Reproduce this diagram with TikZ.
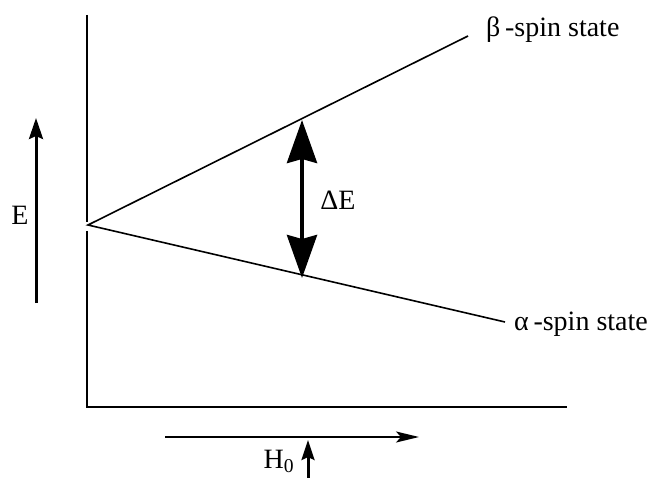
\documentclass[tikz,border=0pt]{standalone}
\usepackage{fontspec}
\setmainfont{Liberation Serif}
\usetikzlibrary{arrows.meta}
\begin{document}
\begin{tikzpicture}[x=1pt,y=-1pt,
  lbl/.style={inner sep=0pt,font=\fontsize{28}{32}\selectfont},
  axis/.style={line width=2pt},
  level/.style={line width=1.6pt}]
\useasboundingbox (0,0) rectangle (655,478);
% axes
\coordinate (vt) at (87,15);
\coordinate (gapT) at (87,222);
\coordinate (gapB) at (87,231);
\coordinate (orig) at (87,407);
\coordinate (xend) at (567,407);
\draw[axis] (vt) -- (gapT);
\draw[axis] (gapB) -- (orig) -- (xend);
% levels
\coordinate (v) at (88,225);
\coordinate (bend) at (468,36);
\coordinate (aend) at (505,322);
\draw[level] (bend) -- (v) -- (aend);
\node[lbl,anchor=west] (beta) at (486,30) {β\,-spin state};
\node[lbl,anchor=west] (alpha) at (514,324) {α\,-spin state};
% Delta E
\coordinate (dt) at (302,120);
\coordinate (db) at (302,278);
\draw[line width=4pt,{Stealth[length=43pt,width=30pt,inset=4pt]}-{Stealth[length=43pt,width=30pt,inset=4pt]}] (dt) -- (db);
\node[lbl] (dE) at (338,200) {ΔE};
% E arrow
\coordinate (ea) at (36,303);
\coordinate (eb) at (36,118);
\draw[line width=3pt,-{Stealth[length=21pt,width=14pt,inset=3pt]}] (ea) -- (eb);
\node[lbl] (E) at (20,215) {E};
% H0 arrows
\coordinate (ha) at (165,437);
\coordinate (hb) at (419,437);
\draw[line width=2pt,-{Stealth[length=23pt,width=11pt,inset=5pt]}] (ha) -- (hb);
\coordinate (ua) at (308,478);
\coordinate (ub) at (308,440);
\draw[line width=3pt,-{Stealth[length=20pt,width=13pt,inset=3pt]}] (ua) -- (ub);
\node[lbl,anchor=base] (H) at (279,468) {H\textsubscript{0}};
\end{tikzpicture}
\end{document}
